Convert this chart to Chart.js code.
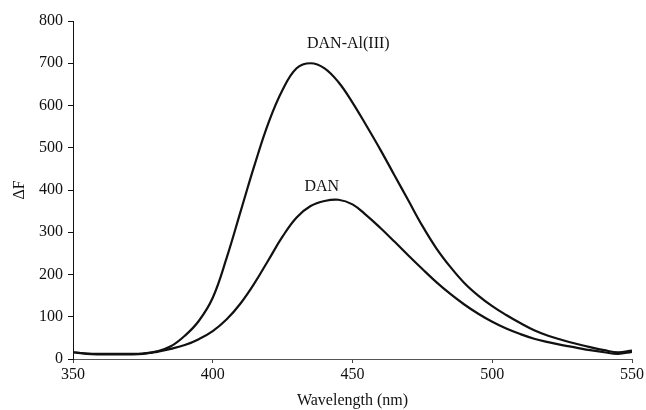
<!DOCTYPE html>
<html>
<head>
<meta charset="utf-8">
<script src="https://cdn.jsdelivr.net/npm/chart.js@4"></script>
<style>
  html, body { margin: 0; padding: 0; background: #fff; }
  #wrap { width: 646px; height: 410px; }
</style>
</head>
<body>
<div id="wrap"><canvas id="chart" width="646" height="410"></canvas></div>
<script>
// wavelength (nm), read every 5 nm off the picture
const wavelengths = [350, 355, 360, 365, 370, 375, 380, 385, 390, 395,
    400, 405, 410, 415, 420, 425, 430, 435, 440, 445,
    450, 455, 460, 465, 470, 475, 480, 485, 490, 495,
    500, 505, 510, 515, 520, 525, 530, 535, 540, 545, 550];

const danAl = [16, 13, 12, 12, 12, 13, 18, 30, 55, 90,
    145, 240, 350, 460, 560, 637, 688, 700, 688, 655,
    607, 552, 495, 435, 375, 315, 262, 218, 180, 150,
    125, 104, 85, 68, 55, 45, 36, 28, 21, 16, 20];

const dan = [16, 12, 11, 11, 11, 12, 17, 24, 33, 47,
    66, 94, 132, 180, 235, 290, 335, 362, 374, 377,
    366, 340, 310, 278, 245, 213, 182, 154, 129, 107,
    88, 72, 59, 48, 40, 33, 27, 21, 16, 12, 17];

const xTicks = [350, 400, 450, 500, 550];
const yTicks = [0, 100, 200, 300, 400, 500, 600, 700, 800];

// curve captions, in data units
const curveLabels = [
    { text: 'DAN-Al(III)', x: 448.5, y: 745 },
    { text: 'DAN', x: 439, y: 408 }
];

const serif = '"Liberation Serif", "DejaVu Serif", serif';

const curveLabelPlugin = {
    id: 'curveLabels',
    afterDatasetsDraw(chart) {
        const ctx = chart.ctx;
        const xs = chart.scales.x;
        const ys = chart.scales.y;
        ctx.save();
        ctx.fillStyle = '#111';
        ctx.font = '16px ' + serif;
        ctx.textAlign = 'center';
        ctx.textBaseline = 'middle';
        curveLabels.forEach(l => {
            ctx.fillText(l.text, xs.getPixelForValue(l.x), ys.getPixelForValue(l.y));
        });
        ctx.restore();
    }
};

const toPoints = arr => wavelengths.map((w, i) => ({ x: w, y: arr[i] }));

const lineStyle = {
    borderColor: '#111',
    borderWidth: 2.2,
    pointRadius: 0,
    fill: false,
    tension: 0.4
};

new Chart(document.getElementById('chart').getContext('2d'), {
    type: 'line',
    data: {
        datasets: [
            Object.assign({ label: 'DAN-Al(III)', data: toPoints(danAl) }, lineStyle),
            Object.assign({ label: 'DAN', data: toPoints(dan) }, lineStyle)
        ]
    },
    options: {
        responsive: false,
        animation: false,
        layout: { padding: { top: 21, right: 14, left: 0, bottom: 0 } },
        plugins: {
            legend: { display: false },
            tooltip: { enabled: false }
        },
        scales: {
            x: {
                type: 'linear',
                min: 350,
                max: 550,
                afterBuildTicks: scale => { scale.ticks = xTicks.map(v => ({ value: v })); },
                afterFit: scale => { scale.height = 51; },
                grid: { drawOnChartArea: false, drawTicks: true, tickLength: 4, color: '#444' },
                border: { display: true, color: '#555', width: 1 },
                ticks: { color: '#111', padding: 2, font: { family: serif, size: 16 } },
                title: {
                    display: true,
                    text: 'Wavelength (nm)',
                    color: '#111',
                    padding: 0,
                    font: { family: serif, size: 16 }
                }
            },
            y: {
                min: 0,
                max: 800,
                afterBuildTicks: scale => { scale.ticks = yTicks.map(v => ({ value: v })); },
                afterFit: scale => { scale.width = 73; },
                grid: { drawOnChartArea: false, drawTicks: true, tickLength: 5, color: '#111' },
                border: { display: true, color: '#111', width: 1 },
                ticks: { color: '#111', padding: 5, font: { family: serif, size: 16 } },
                title: {
                    display: true,
                    text: 'ΔF',
                    color: '#111',
                    padding: { top: 10, bottom: 0 },
                    font: { family: serif, size: 16 }
                }
            }
        }
    },
    plugins: [curveLabelPlugin]
});
</script>
</body>
</html>
